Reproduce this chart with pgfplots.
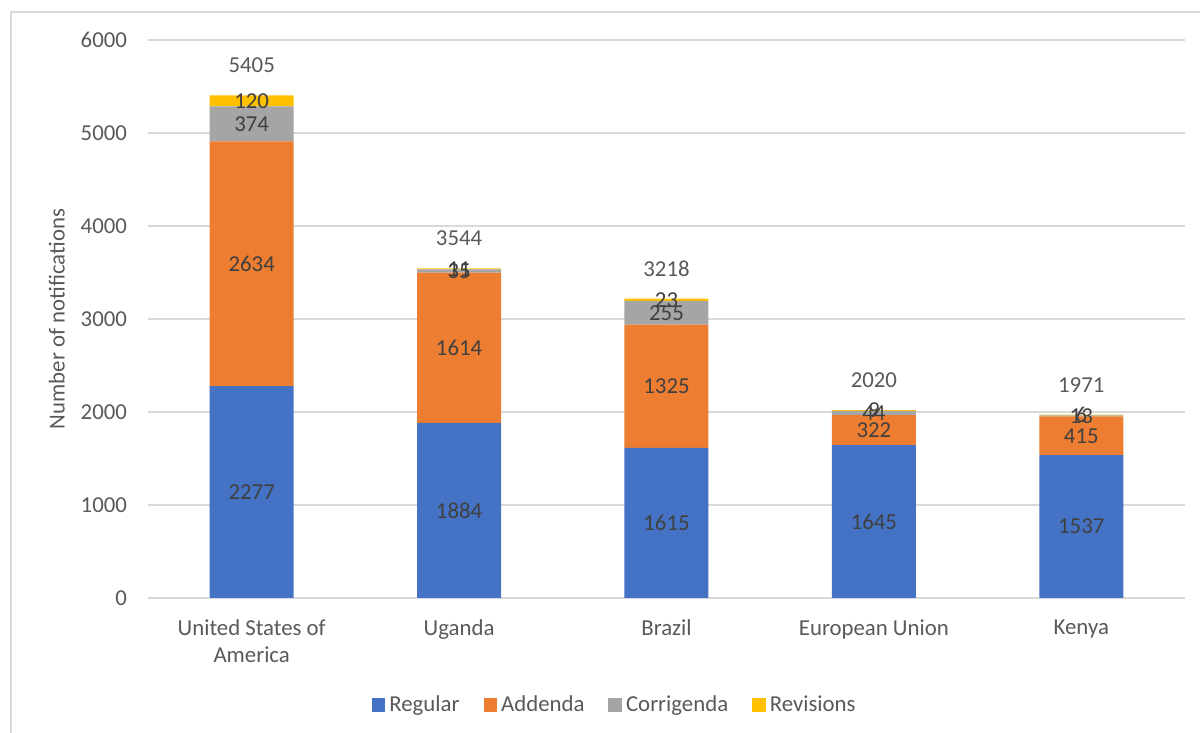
\documentclass[border=0pt]{standalone}
\usepackage{pgfplots}
\pgfplotsset{compat=1.18}
\usepackage{fontspec}
\setmainfont{Carlito}
\definecolor{cReg}{HTML}{4472C4}
\definecolor{cAdd}{HTML}{ED7D31}
\definecolor{cCor}{HTML}{A5A5A5}
\definecolor{cRev}{HTML}{FFC000}
\definecolor{ctxt}{HTML}{595959}
\definecolor{clab}{HTML}{404040}
\definecolor{cgrid}{HTML}{D9D9D9}
\begin{document}
\begin{tikzpicture}
\pgfplotsset{
  common/.style={
    scale only axis, width=518.5pt, height=279pt,
    at={(74pt,67.5pt)}, anchor=south west,
    xmin=-0.5, xmax=4.5, ymin=0, ymax=6000,
    font=\fontsize{11.4}{13}\selectfont,
    /pgf/number format/assume math mode=true,
  }
}
\begin{axis}[common,
  ybar stacked, bar width=42pt,
  axis line style={draw=none},
  ymajorgrids, major grid style={cgrid, line width=0.6pt},
  major tick length=0pt,
  ytick={0,1000,...,6000},
  xtick={0,1,2,3,4},
  xticklabels={{United States of\\America},Uganda,Brazil,European Union,Kenya},
  xticklabel style={align=center, text=ctxt, yshift=-7.5pt, font=\fontsize{11.4}{13.5}\selectfont},
  yticklabel style={text=ctxt, xshift=-7pt},
  /pgf/number format/1000 sep={},
  ylabel={Number of notifications},
  ylabel style={at={(axis description cs:-0.088,0.5)}, anchor=center, text=ctxt},
  legend columns=-1,
  legend style={draw=none, fill=none, at={(axis description cs:0.451,-0.192)}, anchor=center,
    text=ctxt, /tikz/every even column/.append style={column sep=10pt}},
  legend image code/.code={\fill[#1] (0pt,-3.4pt) rectangle (6.8pt,3.4pt);},
]
\addplot[fill=cReg, draw=none] coordinates {(0,2277) (1,1884) (2,1615) (3,1645) (4,1537)};
\addplot[fill=cAdd, draw=none] coordinates {(0,2634) (1,1614) (2,1325) (3,322) (4,415)};
\addplot[fill=cCor, draw=none] coordinates {(0,374) (1,35) (2,255) (3,44) (4,13)};
\addplot[fill=cRev, draw=none] coordinates {(0,120) (1,11) (2,23) (3,9) (4,6)};
\legend{Regular,Addenda,Corrigenda,Revisions}
\end{axis}
\begin{axis}[common, hide axis,
  nodes near coords, point meta=explicit symbolic,
  every node near coord/.append style={anchor=center, text=clab, inner sep=0pt},
]
\addplot[only marks, mark=none] coordinates {
  (0,1138.5) [2277] (1,942) [1884] (2,807.5) [1615] (3,822.5) [1645] (4,768.5) [1537]
  (0,3594) [2634] (1,2691) [1614] (2,2277.5) [1325] (3,1806) [322] (4,1744.5) [415]
  (0,5098) [374] (1,3515.5) [35] (2,3067.5) [255] (3,1989) [44] (4,1958.5) [13]
  (0,5345) [120] (1,3538.5) [11] (2,3206.5) [23] (3,2015.5) [9] (4,1968) [6]
};
\addplot[only marks, mark=none, every node near coord/.append style={yshift=15pt, text=ctxt}] coordinates {
  (0,5405) [5405] (1,3544) [3544] (2,3218) [3218] (3,2020) [2020] (4,1971) [1971]
};
\end{axis}
\draw[cgrid, line width=0.8pt] (5.5pt,0) -- (5.5pt,360.5pt) -- (600pt,360.5pt);
\pgfresetboundingbox
\path[use as bounding box] (0,0) rectangle (600pt,366.5pt);
\end{tikzpicture}
\end{document}
